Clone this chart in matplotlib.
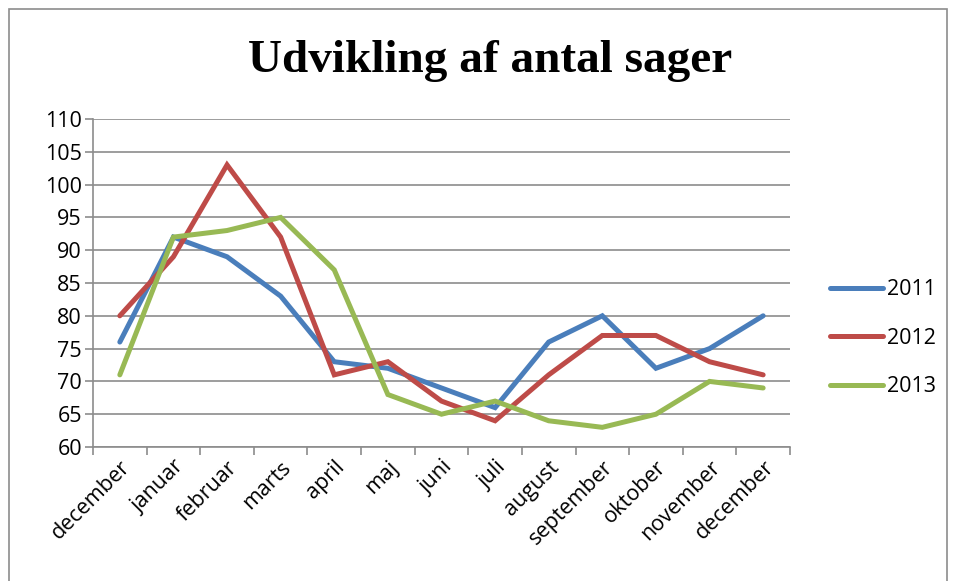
import numpy as np
import matplotlib.pyplot as plt
from matplotlib.patches import Rectangle

months = ["december", "januar", "februar", "marts", "april", "maj", "juni",
          "juli", "august", "september", "oktober", "november", "december"]
y2011 = [76, 92, 89, 83, 73, 72, 69, 66, 76, 80, 72, 75, 80]
y2012 = [80, 89, 103, 92, 71, 73, 67, 64, 71, 77, 77, 73, 71]
y2013 = [71, 92, 93, 95, 87, 68, 65, 67, 64, 63, 65, 70, 69]

series = [("2011", y2011, "#4a7ebb"),
          ("2012", y2012, "#be4b48"),
          ("2013", y2013, "#98b954")]

fig = plt.figure(figsize=(9.56, 5.81), dpi=100)
ax = fig.add_axes([0.0973, 0.2306, 0.7290, 0.5646])

x = np.arange(len(months))
for name, vals, col in series:
    ax.plot(x, vals, color=col, lw=3.6, label=name, solid_capstyle="round",
            solid_joinstyle="miter")

ax.set_xlim(-0.5, len(months) - 0.5)
ax.set_ylim(60, 110)
ax.set_yticks(np.arange(60, 111, 5))
ax.yaxis.grid(True, color="#8c8c8c", lw=1.2)
ax.set_axisbelow(True)

# ticks between categories, labels centred on them
ax.set_xticks(np.arange(-0.5, len(months)), labels=[""] * (len(months) + 1))
ax.set_xticks(x, minor=True)
ax.set_xticklabels(months, minor=True, rotation=45, ha="right",
                   rotation_mode="anchor", fontsize=15.5, family="Open Sans")
ax.tick_params(axis="x", which="minor", length=0, pad=7)
ax.tick_params(axis="x", which="major", length=6, color="#8c8c8c", width=1.2)
ax.tick_params(axis="y", length=6, color="#8c8c8c", width=1.2, labelsize=15.5,
               pad=2)
for lab in ax.get_yticklabels():
    lab.set_family("Open Sans")

for s in ["top", "right"]:
    ax.spines[s].set_visible(False)
for s in ["left", "bottom"]:
    ax.spines[s].set_color("#8c8c8c")
    ax.spines[s].set_linewidth(1.2)

leg = ax.legend(loc="center left", bbox_to_anchor=(1.057, 0.332), frameon=False,
                prop={"family": "Open Sans", "size": 15.5}, handlelength=2.5,
                labelspacing=1.28, handletextpad=0.15, borderpad=0,
                borderaxespad=0)

fig.text(0.513, 0.895, "Udvikling af antal sager", ha="center", va="center",
         fontsize=34, fontweight="bold", family="Liberation Serif")

fig.patches.append(Rectangle((0.009, -0.01), 0.982, 0.995, transform=fig.transFigure,
                             fill=False, edgecolor="#8c8c8c", lw=1.2))

plt.savefig("out.png", dpi=100)
